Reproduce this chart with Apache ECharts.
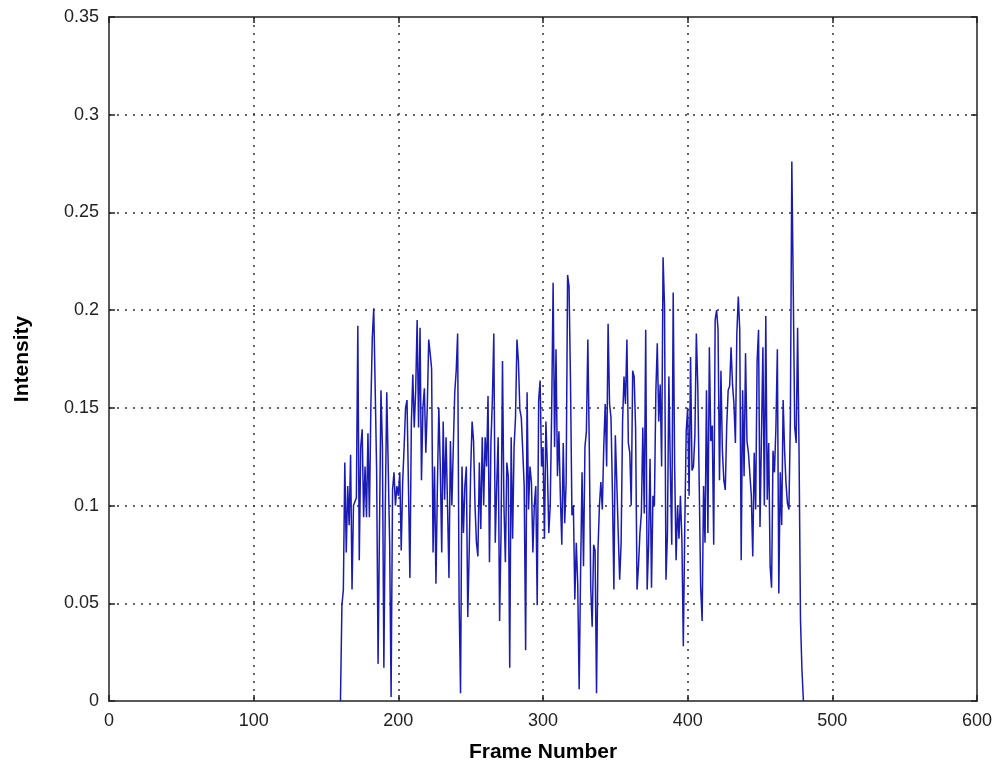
<!DOCTYPE html>
<html>
<head>
<meta charset="utf-8">
<script src="https://cdn.jsdelivr.net/npm/echarts@6/dist/echarts.min.js"></script>
<style>
  html, body { margin: 0; padding: 0; background: #fff; }
  #chart { width: 997px; height: 775px; }
</style>
</head>
<body>
<div id="chart"></div>
<script>
// first frame of the intensity trace, one value per frame after it
var startFrame = 160;
var intensity = [
  0, 0.049, 0.057, 0.122, 0.076, 0.11, 0.09, 0.126, 0.057, 0.1,
  0.1, 0.104, 0.192, 0.072, 0.13, 0.139, 0.094, 0.12, 0.094, 0.137,
  0.094, 0.15, 0.186, 0.201, 0.16, 0.118, 0.019, 0.09, 0.159, 0.13,
  0.017, 0.1, 0.158, 0.12, 0.081, 0.002, 0.108, 0.117, 0.1, 0.11,
  0.105, 0.117, 0.077, 0.112, 0.13, 0.15, 0.154, 0.11, 0.063, 0.142,
  0.167, 0.14, 0.159, 0.195, 0.14, 0.191, 0.113, 0.15, 0.16, 0.127,
  0.15, 0.185, 0.178, 0.17, 0.076, 0.12, 0.06, 0.11, 0.15, 0.12,
  0.076, 0.143, 0.103, 0.135, 0.1, 0.063, 0.133, 0.1, 0.13, 0.158,
  0.169, 0.188, 0.052, 0.004, 0.12, 0.086, 0.11, 0.12, 0.043, 0.077,
  0.118, 0.143, 0.133, 0.1, 0.081, 0.074, 0.122, 0.088, 0.135, 0.1,
  0.135, 0.12, 0.156, 0.071, 0.132, 0.154, 0.188, 0.081, 0.11, 0.135,
  0.041, 0.086, 0.174, 0.1, 0.071, 0.122, 0.115, 0.017, 0.135, 0.083,
  0.13, 0.145, 0.185, 0.174, 0.149, 0.145, 0.128, 0.11, 0.026, 0.158,
  0.098, 0.12, 0.112, 0.076, 0.1, 0.11, 0.049, 0.154, 0.164, 0.12,
  0.13, 0.083, 0.143, 0.12, 0.086, 0.1, 0.149, 0.214, 0.13, 0.18,
  0.115, 0.138, 0.105, 0.08, 0.132, 0.091, 0.112, 0.218, 0.212, 0.164,
  0.095, 0.1, 0.052, 0.081, 0.06, 0.006, 0.067, 0.117, 0.069, 0.13,
  0.138, 0.185, 0.13, 0.058, 0.038, 0.08, 0.077, 0.004, 0.077, 0.1,
  0.112, 0.098, 0.13, 0.152, 0.12, 0.193, 0.152, 0.145, 0.107, 0.057,
  0.136, 0.112, 0.086, 0.062, 0.081, 0.143, 0.166, 0.152, 0.185, 0.132,
  0.127, 0.1, 0.169, 0.166, 0.14, 0.057, 0.069, 0.086, 0.096, 0.14,
  0.096, 0.19, 0.057, 0.08, 0.124, 0.058, 0.105, 0.1, 0.158, 0.183,
  0.143, 0.162, 0.12, 0.227, 0.202, 0.062, 0.085, 0.166, 0.12, 0.08,
  0.209, 0.12, 0.072, 0.1, 0.083, 0.105, 0.083, 0.028, 0.089, 0.138,
  0.15, 0.105, 0.176, 0.118, 0.12, 0.136, 0.188, 0.161, 0.11, 0.058,
  0.041, 0.11, 0.081, 0.159, 0.086, 0.181, 0.133, 0.141, 0.08, 0.195,
  0.2, 0.19, 0.113, 0.169, 0.128, 0.113, 0.108, 0.141, 0.159, 0.161,
  0.181, 0.162, 0.152, 0.132, 0.188, 0.207, 0.19, 0.072, 0.159, 0.115,
  0.178, 0.133, 0.127, 0.127, 0.105, 0.074, 0.127, 0.098, 0.174, 0.19,
  0.089, 0.135, 0.181, 0.1, 0.197, 0.103, 0.132, 0.069, 0.058, 0.128,
  0.117, 0.14, 0.18, 0.055, 0.117, 0.09, 0.154, 0.128, 0.111, 0.101,
  0.098, 0.145, 0.276, 0.21, 0.14, 0.132, 0.191, 0.127, 0.041, 0.016,
  0
];
var xTicks = [0, 100, 200, 300, 400, 500, 600];
var yTicks = [0, 0.05, 0.1, 0.15, 0.2, 0.25, 0.3, 0.35];

var points = [];
for (var i = 0; i < intensity.length; i++) {
  points.push([startFrame + i, intensity[i]]);
}

var font = "'Liberation Sans', Arial, sans-serif";
var gridLine = {
  show: true, showMinLine: false, showMaxLine: false,
  lineStyle: { color: '#333', type: [2, 6], width: 1.5 }
};
var boxLine = { show: true, onZero: false, lineStyle: { color: '#222', width: 1.5 } };
var inTick = { show: true, inside: true, length: 6, lineStyle: { color: '#222', width: 1.5 } };

var chart = echarts.init(document.getElementById('chart'));
chart.setOption({
  backgroundColor: '#fff',
  animation: false,
  grid: { left: 109, right: 20, top: 17, bottom: 74 },
  xAxis: [{
    type: 'value',
    min: xTicks[0], max: xTicks[xTicks.length - 1], interval: 100,
    name: 'Frame Number', nameLocation: 'middle', nameGap: 41,
    nameTextStyle: { fontFamily: font, fontSize: 21, fontWeight: 'bold', color: '#000' },
    axisLine: boxLine, axisTick: inTick, splitLine: gridLine,
    axisLabel: { fontFamily: font, fontSize: 18, color: '#222', margin: 11 }
  }, {
    type: 'value', position: 'top',
    min: xTicks[0], max: xTicks[xTicks.length - 1], interval: 100,
    axisLine: boxLine, axisTick: inTick, splitLine: { show: false },
    axisLabel: { show: false }
  }],
  yAxis: [{
    type: 'value',
    min: yTicks[0], max: yTicks[yTicks.length - 1], interval: 0.05,
    name: 'Intensity', nameLocation: 'middle', nameGap: 76,
    nameTextStyle: { fontFamily: font, fontSize: 21, fontWeight: 'bold', color: '#000' },
    axisLine: boxLine, axisTick: inTick, splitLine: gridLine,
    axisLabel: {
      fontFamily: font, fontSize: 18, color: '#222', margin: 10,
      formatter: function(v) { return String(+v.toFixed(2)); }
    }
  }, {
    type: 'value', position: 'right',
    min: yTicks[0], max: yTicks[yTicks.length - 1], interval: 0.05,
    axisLine: boxLine, axisTick: inTick, splitLine: { show: false },
    axisLabel: { show: false }
  }],
  series: [{
    type: 'line',
    data: points,
    showSymbol: false,
    lineStyle: { color: '#1a1ab4', width: 1.5 },
    z: 3
  }]
});
</script>
</body>
</html>
